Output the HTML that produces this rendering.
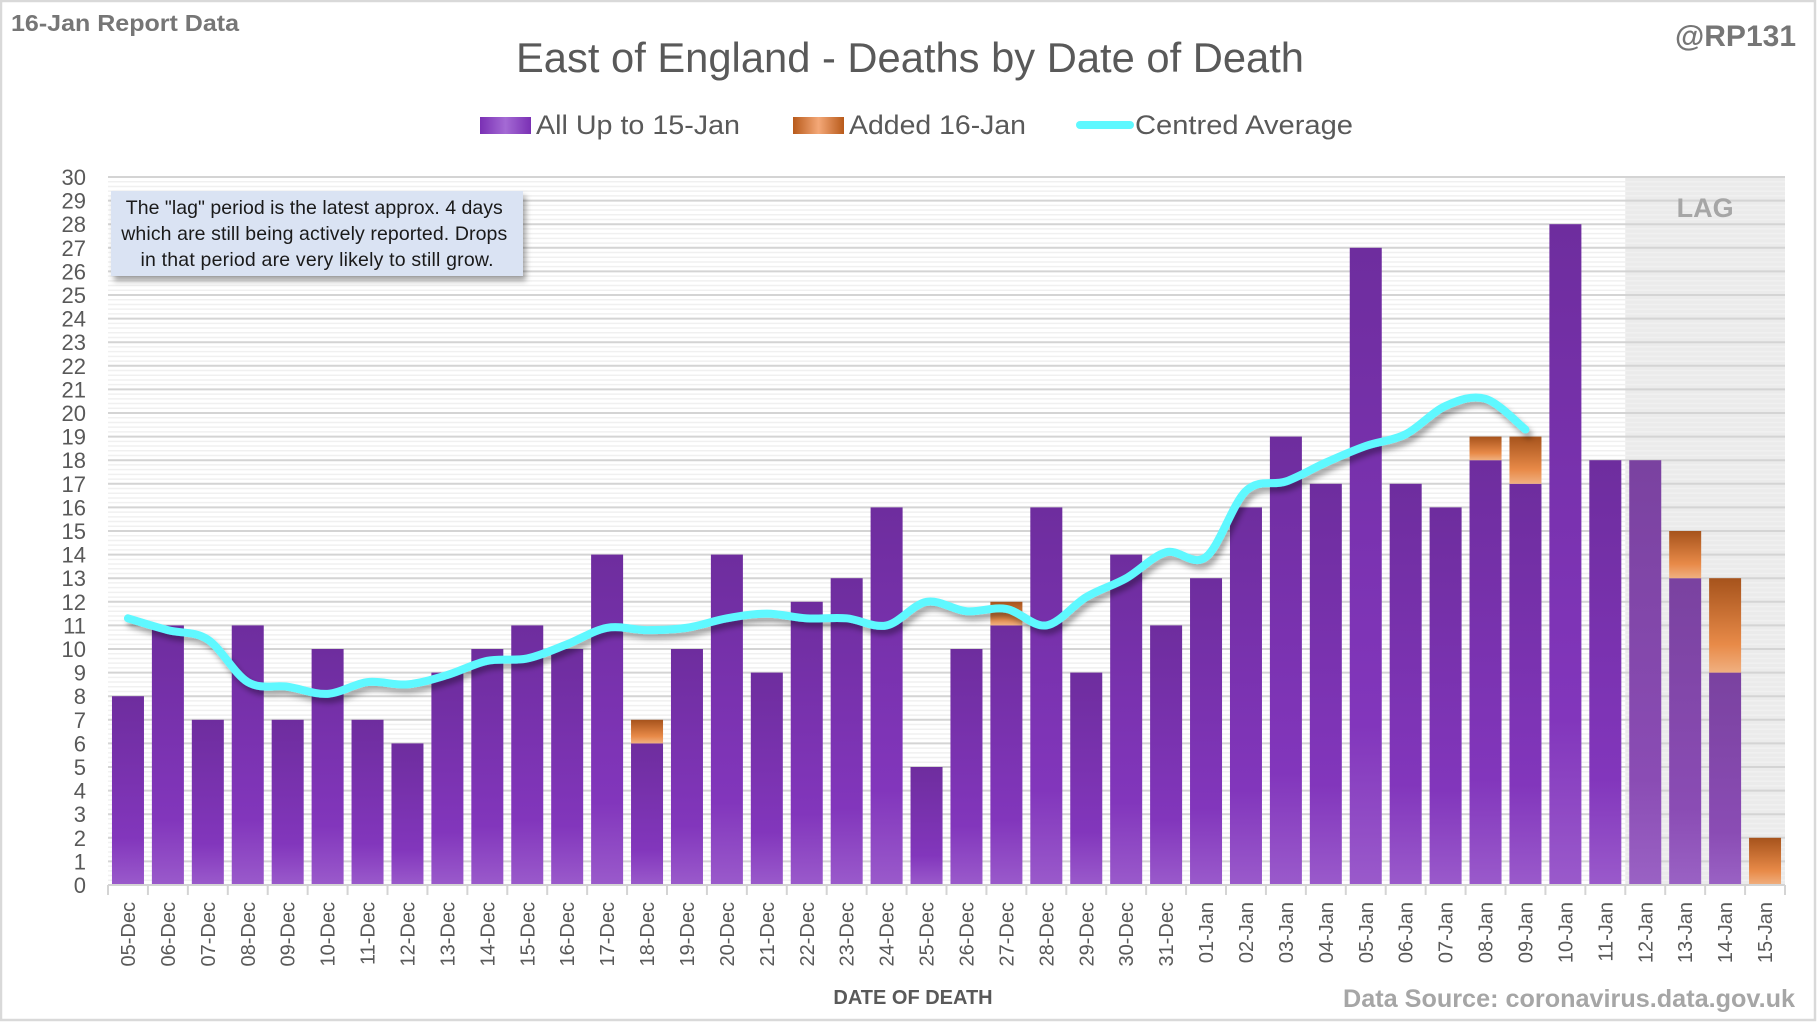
<!DOCTYPE html>
<html><head><meta charset="utf-8">
<style>
html,body{margin:0;padding:0;background:#fff;}
svg{display:block;font-family:"Liberation Sans",sans-serif;}
</style></head>
<body>
<svg id="c" width="1817" height="1022" viewBox="0 0 1817 1022" xmlns="http://www.w3.org/2000/svg">
<defs>
<linearGradient id="pg" x1="0" y1="0" x2="0" y2="1">
<stop offset="0" stop-color="#6e2d9e"/><stop offset="0.75" stop-color="#8236bc"/><stop offset="1" stop-color="#9a5acb"/>
</linearGradient>
<linearGradient id="lg" x1="0" y1="0" x2="0" y2="1">
<stop offset="0" stop-color="#7a42a0"/><stop offset="0.75" stop-color="#8a4cb4"/><stop offset="1" stop-color="#9a62c4"/>
</linearGradient>
<linearGradient id="og" x1="0" y1="0" x2="0" y2="1">
<stop offset="0" stop-color="#a6531c"/><stop offset="0.7" stop-color="#e88a48"/><stop offset="1" stop-color="#f0b080"/>
</linearGradient>
<linearGradient id="pgl" x1="0" y1="0" x2="1" y2="0">
<stop offset="0" stop-color="#7a30b4"/><stop offset="0.5" stop-color="#a46ad4"/><stop offset="1" stop-color="#7a30b4"/>
</linearGradient>
<linearGradient id="ogl" x1="0" y1="0" x2="1" y2="0">
<stop offset="0" stop-color="#b85a1a"/><stop offset="0.5" stop-color="#f4a878"/><stop offset="1" stop-color="#b85a1a"/>
</linearGradient>
<filter id="sh" x="-10%" y="-10%" width="120%" height="130%"><feDropShadow dx="3" dy="5" stdDeviation="3" flood-color="#000" flood-opacity="0.35"/></filter>
</defs>
<rect x="1" y="1" width="1814" height="1019" fill="#fff" stroke="#d9d9d9" stroke-width="2.5"/>
<g id="grid"></g>
<g id="bars"></g>
<g id="lbl"></g>
<text x="11" y="31" font-size="23" font-weight="bold" fill="#767676" textLength="228" lengthAdjust="spacingAndGlyphs">16-Jan Report Data</text>
<text x="1796" y="46" font-size="30" font-weight="bold" fill="#767676" text-anchor="end">@RP131</text>
<text x="910" y="72" font-size="42" fill="#595959" text-anchor="middle" textLength="788" lengthAdjust="spacingAndGlyphs">East of England - Deaths by Date of Death</text>
<rect x="480" y="117" width="51" height="17" fill="url(#pgl)"/>
<text x="536" y="134" font-size="27" fill="#595959" textLength="204" lengthAdjust="spacingAndGlyphs">All Up to 15-Jan</text>
<rect x="793" y="117" width="51" height="17" fill="url(#ogl)"/>
<text x="849" y="134" font-size="27" fill="#595959" textLength="177" lengthAdjust="spacingAndGlyphs">Added 16-Jan</text>
<line x1="1080" y1="125" x2="1130" y2="125" stroke="#5ff8ff" stroke-width="8" stroke-linecap="round"/>
<text x="1135" y="134" font-size="27" fill="#595959" textLength="218" lengthAdjust="spacingAndGlyphs">Centred Average</text>
<g filter="url(#sh)"><rect x="111" y="191" width="412" height="85" fill="#dae3f3"/></g>
<text font-size="19.5" fill="#1a1a1a" text-anchor="middle" lengthAdjust="spacingAndGlyphs">
<tspan x="317" y="214" textLength="377">The "lag" period is the latest approx. 4 days</tspan>
<tspan x="317" y="240" textLength="386">which are still being actively reported.  Drops</tspan>
<tspan x="317" y="266" textLength="353">in that period are very likely to still grow.</tspan>
</text>
<text x="913" y="1004" font-size="20" font-weight="bold" fill="#595959" text-anchor="middle">DATE OF DEATH</text>
<text x="1795" y="1007" font-size="25" font-weight="bold" fill="#a6a6a6" text-anchor="end" textLength="452" lengthAdjust="spacingAndGlyphs">Data Source: coronavirus.data.gov.uk</text>
</svg>
<script>
var NS="http://www.w3.org/2000/svg";
function el(p,t,a,txt){var e=document.createElementNS(NS,t);for(var k in a)e.setAttribute(k,a[k]);if(txt!==undefined)e.textContent=txt;p.appendChild(e);return e;}
var X0=108,X1=1785,Y0=885,U=23.6,N=42,C=(X1-X0)/N,BW=32;
function Y(v){return Y0-v*U;}
var grid=document.getElementById('grid'),bars=document.getElementById('bars'),lbl=document.getElementById('lbl');
var lagX=X0+38*C;
el(grid,'rect',{x:lagX,y:Y(30),width:X1-lagX,height:Y0-Y(30),fill:'#ebebeb'});
for(var v=0;v<30;v++){for(var m=1;m<5;m++){var y=Y(v+m*0.2);el(grid,'line',{x1:X0,x2:X1,y1:y,y2:y,stroke:'#f0f0f0','stroke-width':1.5});}}
for(var v=0;v<=30;v++){var y=Y(v);el(grid,'line',{x1:X0,x2:X1,y1:y,y2:y,stroke:'#d4d4d4','stroke-width':2});
el(lbl,'text',{x:86,y:y+8,'font-size':22,fill:'#595959','text-anchor':'end'},String(v));}
el(grid,'text',{x:(lagX+X1)/2,y:217,'font-size':27,'font-weight':'bold',fill:'#a6a6a6','text-anchor':'middle'},'LAG');
var base=[8,11,7,11,7,10,7,6,9,10,11,10,14,6,10,14,9,12,13,16,5,10,11,16,9,14,11,13,16,19,17,27,17,16,18,17,28,18,18,13,9,0];
var add=[0,0,0,0,0,0,0,0,0,0,0,0,0,1,0,0,0,0,0,0,0,0,1,0,0,0,0,0,0,0,0,0,0,0,1,2,0,0,0,2,4,2];
var labels=[];for(var d=5;d<=31;d++)labels.push((d<10?'0':'')+d+'-Dec');for(var d=1;d<=15;d++)labels.push((d<10?'0':'')+d+'-Jan');
for(var i=0;i<N;i++){var cx=X0+(i+0.5)*C,x=cx-BW/2;
if(base[i]>0)el(bars,'rect',{x:x,y:Y(base[i]),width:BW,height:base[i]*U,fill:i>=38?'url(#lg)':'url(#pg)'});
if(add[i]>0)el(bars,'rect',{x:x,y:Y(base[i]+add[i]),width:BW,height:add[i]*U,fill:'url(#og)'});
var tx=X0+i*C;el(lbl,'line',{x1:tx,x2:tx,y1:Y0,y2:Y0+10,stroke:'#d4d4d4','stroke-width':2});
el(lbl,'text',{x:0,y:0,'font-size':20,fill:'#595959','text-anchor':'end',transform:'translate('+(cx+7)+',902) rotate(-90)'},labels[i]);}
el(lbl,'line',{x1:X1,x2:X1,y1:Y0,y2:Y0+10,stroke:'#d4d4d4','stroke-width':2});
el(lbl,'line',{x1:X0,x2:X1,y1:Y0,y2:Y0,stroke:'#d4d4d4','stroke-width':2});
var avg=[11.3,10.8,10.4,8.6,8.4,8.1,8.6,8.5,8.9,9.5,9.6,10.2,10.9,10.8,10.9,11.3,11.5,11.3,11.3,11.0,12.0,11.6,11.7,11.0,12.2,13.0,14.1,13.9,16.7,17.1,17.9,18.6,19.1,20.3,20.6,19.3];
var P=avg.map(function(v,i){return [X0+(i+0.5)*C,Y(v)];});
var d='M'+P[0][0]+','+P[0][1];
for(var i=0;i<P.length-1;i++){var p0=P[Math.max(0,i-1)],p1=P[i],p2=P[i+1],p3=P[Math.min(P.length-1,i+2)];
var t=0.5/3;d+=' C'+(p1[0]+(p2[0]-p0[0])*t)+','+(p1[1]+(p2[1]-p0[1])*t)+' '+(p2[0]-(p3[0]-p1[0])*t)+','+(p2[1]-(p3[1]-p1[1])*t)+' '+p2[0]+','+p2[1];}
el(bars,'path',{d:d,fill:'none',stroke:'#5ff8ff','stroke-width':8,'stroke-linecap':'round','stroke-linejoin':'round',filter:'url(#sh)'});
</script>
</body></html>
